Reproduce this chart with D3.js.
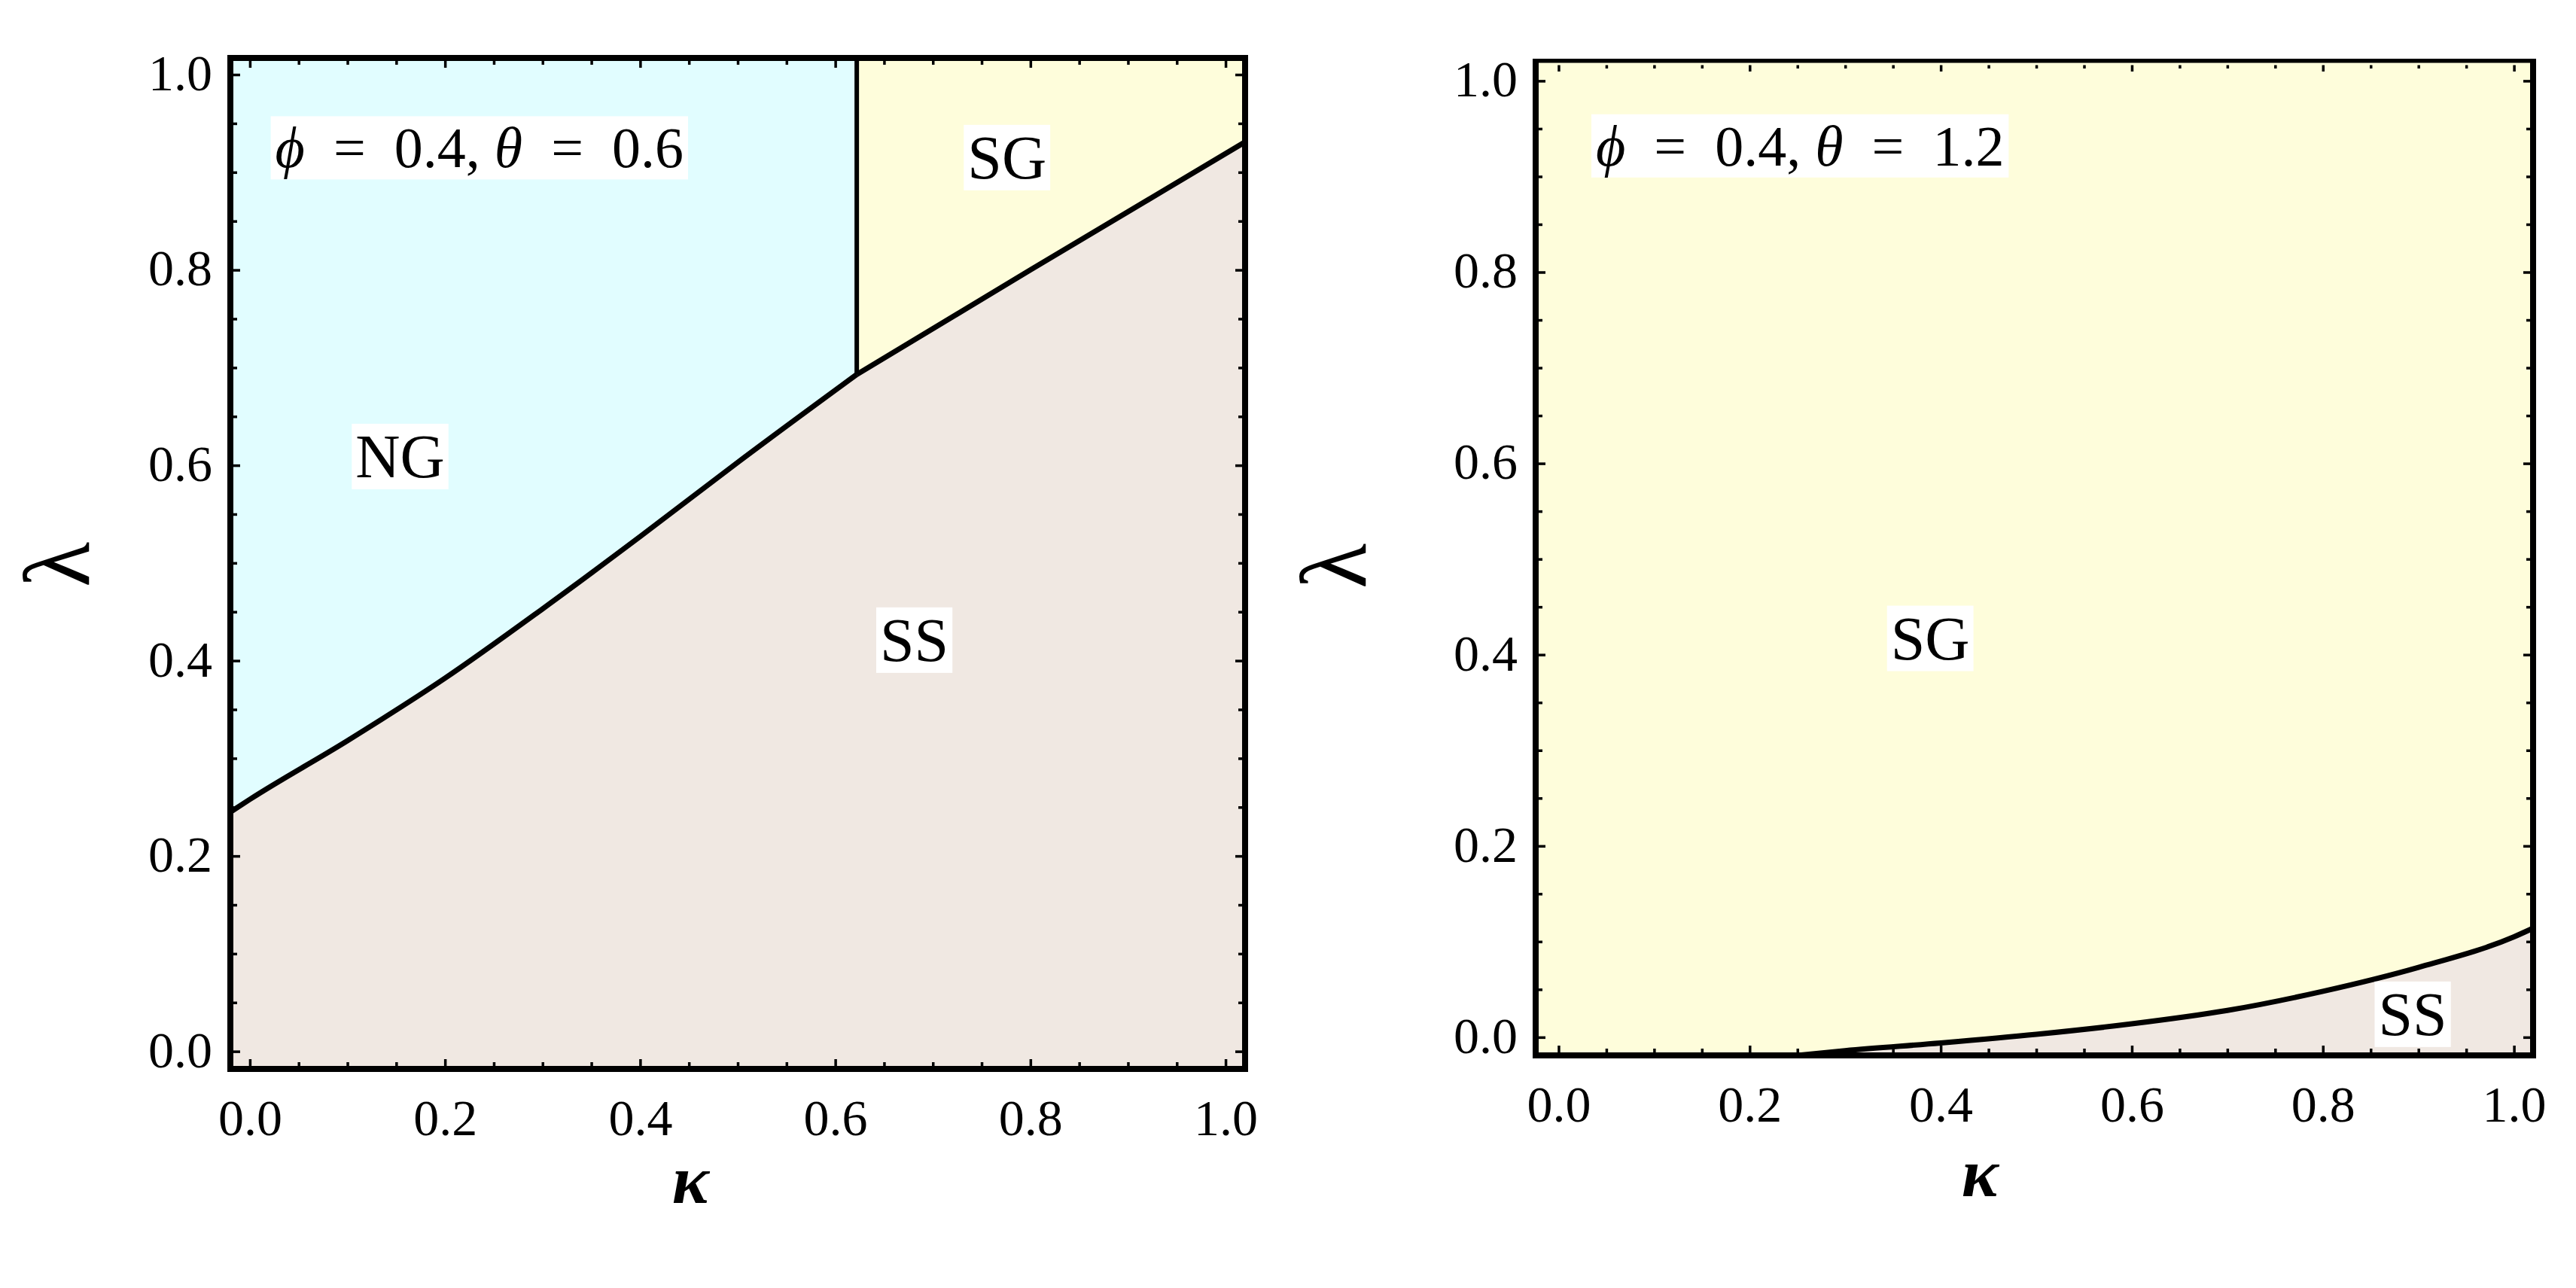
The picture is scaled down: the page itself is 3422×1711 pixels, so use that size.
<!DOCTYPE html>
<html>
<head>
<meta charset="utf-8">
<script src="https://cdn.jsdelivr.net/npm/d3@7"></script>
<style>
  html, body { margin: 0; padding: 0; background: #ffffff; }
  svg { display: block; }
</style>
</head>
<body>
<svg id="chart" width="3422" height="1711"></svg>
<script>
// ---------------- DATA ----------------
const tickValuesMajor = [0.0, 0.2, 0.4, 0.6, 0.8, 1.0];
const tickLabels = ["0.0", "0.2", "0.4", "0.6", "0.8", "1.0"];
const tickValuesMinor = [0.05, 0.1, 0.15, 0.25, 0.3, 0.35, 0.45, 0.5, 0.55, 0.65, 0.7, 0.75, 0.85, 0.9, 0.95];

// Left panel (phi = 0.4, theta = 0.6): NG / SS boundary
const leftNGKappa  = [-0.02, 0.0, 0.1, 0.2, 0.3, 0.4, 0.5, 0.622];
const leftNGLambda = [0.245, 0.258, 0.318, 0.382, 0.453, 0.527, 0.603, 0.693];
// Left panel: SG / SS boundary
const leftSGKappa  = [0.622, 0.8, 1.02];
const leftSGLambda = [0.693, 0.800, 0.931];
// Left panel: NG / SG vertical boundary
const leftVertKappa = 0.622;

// Right panel (phi = 0.4, theta = 1.2): SG / SS boundary
const rightKappa  = [0.25, 0.3, 0.4, 0.5, 0.6, 0.7, 0.8, 0.9, 1.0, 1.02];
const rightLambda = [-0.019, -0.014, -0.006, 0.003, 0.014, 0.028, 0.048, 0.073, 0.105, 0.114];

const leftTitle  = ["0.4", "0.6"];
const rightTitle = ["0.4", "1.2"];

// ---------------- STYLE / LAYOUT ----------------
const COL_NG = "#e1fdff";
const COL_SG = "#fefddb";
const COL_SS = "#f0e8e2";
const SERIF = "'Liberation Serif', 'Times New Roman', 'DejaVu Serif', serif";

const svg = d3.select("#chart");

const panels = [
  { id: "L", x0: 306, y0: 77, w: 1348, h: 1343, xd: [-0.02, 1.02], yd: [-0.018, 1.017],
    title: leftTitle, titlePos: [0.026, 0.925], thinTop: false,
    kappaPos: [917, 1567], lambdaPos: [76, 750] },
  { id: "R", x0: 2040, y0: 82, w: 1325, h: 1320, xd: [-0.024, 1.02], yd: [-0.019, 1.02],
    title: rightTitle, titlePos: [0.039, 0.932], thinTop: true,
    kappaPos: [2630, 1558], lambdaPos: [1772, 752] }
];

function labelBox(g, x, y, text, size) {
  const grp = g.append("g");
  const rect = grp.append("rect").attr("fill", "#ffffff");
  const t = grp.append("text")
    .attr("x", x).attr("y", y)
    .attr("text-anchor", "middle")
    .attr("dominant-baseline", "central")
    .attr("font-family", SERIF)
    .attr("font-size", size)
    .attr("fill", "#000")
    .text(text);
  const b = t.node().getBBox();
  rect.attr("x", b.x - 5).attr("y", b.y + 2).attr("width", b.width + 10).attr("height", b.height - 4);
}

function titleBox(g, x, y, vals, size) {
  const grp = g.append("g");
  const rect = grp.append("rect").attr("fill", "#ffffff");
  const t = grp.append("text")
    .attr("x", x).attr("y", y)
    .attr("dominant-baseline", "central")
    .attr("font-family", SERIF)
    .attr("font-size", size)
    .attr("fill", "#000");
  t.append("tspan").attr("font-style", "italic").text("\u03D5");
  t.append("tspan").text("\u2002=\u2002" + vals[0] + ", ");
  t.append("tspan").attr("font-style", "italic").text("\u03B8");
  t.append("tspan").text("\u2002=\u2002" + vals[1]);
  const b = t.node().getBBox();
  rect.attr("x", b.x - 6).attr("y", b.y).attr("width", b.width + 12).attr("height", b.height);
}

panels.forEach(p => {
  const x = d3.scaleLinear().domain(p.xd).range([p.x0, p.x0 + p.w]);
  const y = d3.scaleLinear().domain(p.yd).range([p.y0 + p.h, p.y0]);
  const g = svg.append("g");

  g.append("clipPath").attr("id", "clip" + p.id)
    .append("rect").attr("x", p.x0).attr("y", p.y0).attr("width", p.w).attr("height", p.h);
  const plot = g.append("g").attr("clip-path", `url(#clip${p.id})`);

  const yTop = p.yd[1], yBot = p.yd[0];
  const LW = 7;

  if (p.id === "L") {
    plot.append("rect").attr("x", p.x0).attr("y", p.y0).attr("width", p.w).attr("height", p.h).attr("fill", COL_SS);
    const ng = leftNGKappa.map((k, i) => [k, leftNGLambda[i]]);
    const sg = leftSGKappa.map((k, i) => [k, leftSGLambda[i]]);
    const area = d3.area().x(d => x(d[0])).y0(d => y(d[1])).y1(() => y(yTop)).curve(d3.curveMonotoneX);
    plot.append("path").datum(ng).attr("d", area).attr("fill", COL_NG);
    plot.append("path").datum(sg).attr("d", area).attr("fill", COL_SG);
    const line = d3.line().x(d => x(d[0])).y(d => y(d[1])).curve(d3.curveMonotoneX);
    plot.append("path").datum(ng).attr("d", line).attr("fill", "none").attr("stroke", "#000").attr("stroke-width", LW);
    plot.append("path").datum(sg).attr("d", line).attr("fill", "none").attr("stroke", "#000").attr("stroke-width", LW);
    plot.append("line")
      .attr("x1", x(leftVertKappa)).attr("x2", x(leftVertKappa))
      .attr("y1", y(leftNGLambda[leftNGLambda.length - 1])).attr("y2", y(yTop))
      .attr("stroke", "#000").attr("stroke-width", 6);
  } else {
    plot.append("rect").attr("x", p.x0).attr("y", p.y0).attr("width", p.w).attr("height", p.h).attr("fill", COL_SG);
    const ss = rightKappa.map((k, i) => [k, rightLambda[i]]);
    const area = d3.area().x(d => x(d[0])).y0(() => y(yBot)).y1(d => y(d[1])).curve(d3.curveMonotoneX);
    plot.append("path").datum(ss).attr("d", area).attr("fill", COL_SS);
    const line = d3.line().x(d => x(d[0])).y(d => y(d[1])).curve(d3.curveMonotoneX);
    plot.append("path").datum(ss).attr("d", line).attr("fill", "none").attr("stroke", "#000").attr("stroke-width", LW);
  }

  // axes with inward ticks
  function styleAxis(sel) {
    sel.select(".domain").remove();
    sel.selectAll(".tick line").attr("stroke", "#000").attr("stroke-width", 3.5);
    sel.attr("font-family", SERIF).attr("font-size", 68);
  }
  const bottom = g.append("g").attr("transform", `translate(0,${p.y0 + p.h})`)
    .call(d3.axisBottom(x).tickValues(tickValuesMajor).tickSize(-13).tickFormat((d, i) => tickLabels[i]));
  styleAxis(bottom);
  bottom.selectAll(".tick text").attr("y", 88).attr("dy", 0).attr("fill", "#000");
  g.append("g").attr("transform", `translate(0,${p.y0 + p.h})`)
    .call(d3.axisBottom(x).tickValues(tickValuesMinor).tickSize(-9).tickFormat("")).call(styleAxis);

  g.append("g").attr("transform", `translate(0,${p.y0})`)
    .call(d3.axisTop(x).tickValues(tickValuesMajor).tickSize(-13).tickFormat("")).call(styleAxis);
  g.append("g").attr("transform", `translate(0,${p.y0})`)
    .call(d3.axisTop(x).tickValues(tickValuesMinor).tickSize(-9).tickFormat("")).call(styleAxis);

  const left = g.append("g").attr("transform", `translate(${p.x0},0)`)
    .call(d3.axisLeft(y).tickValues(tickValuesMajor).tickSize(-13).tickFormat((d, i) => tickLabels[i]));
  styleAxis(left);
  left.selectAll(".tick text").attr("x", -24).attr("dy", "0.3em").attr("fill", "#000");
  g.append("g").attr("transform", `translate(${p.x0},0)`)
    .call(d3.axisLeft(y).tickValues(tickValuesMinor).tickSize(-9).tickFormat("")).call(styleAxis);

  g.append("g").attr("transform", `translate(${p.x0 + p.w},0)`)
    .call(d3.axisRight(y).tickValues(tickValuesMajor).tickSize(-13).tickFormat("")).call(styleAxis);
  g.append("g").attr("transform", `translate(${p.x0 + p.w},0)`)
    .call(d3.axisRight(y).tickValues(tickValuesMinor).tickSize(-9).tickFormat("")).call(styleAxis);

  // frame
  g.append("rect").attr("x", p.x0).attr("y", p.y0).attr("width", p.w).attr("height", p.h)
    .attr("fill", "none").attr("stroke", "#000").attr("stroke-width", 8);
  if (p.thinTop) {
    g.append("line").attr("x1", p.x0 + 4).attr("x2", p.x0 + p.w - 4)
      .attr("y1", p.y0 + 3).attr("y2", p.y0 + 3).attr("stroke", COL_SG).attr("stroke-width", 3);
  }

  // region labels
  if (p.id === "L") {
    labelBox(g, x(0.154), y(0.609), "NG", 82);
    labelBox(g, x(0.776), y(0.915), "SG", 82);
    labelBox(g, x(0.681), y(0.421), "SS", 82);
  } else {
    labelBox(g, x(0.389), y(0.417), "SG", 82);
    labelBox(g, x(0.894), y(0.024), "SS", 82);
  }
  titleBox(g, x(p.titlePos[0]), y(p.titlePos[1]), p.title, 76);

  // axis titles
  g.append("text").attr("x", p.kappaPos[0]).attr("y", p.kappaPos[1])
    .attr("text-anchor", "middle").attr("dominant-baseline", "central")
    .attr("font-family", SERIF).attr("font-style", "italic").attr("font-weight", "bold")
    .attr("font-size", 92).text("\u03BA");
  g.append("text").attr("transform", `translate(${p.lambdaPos[0]},${p.lambdaPos[1]}) rotate(-90)`)
    .attr("text-anchor", "middle").attr("dominant-baseline", "central")
    .attr("font-family", SERIF).attr("font-size", 124).text("\u03BB");
});
</script>
</body>
</html>
